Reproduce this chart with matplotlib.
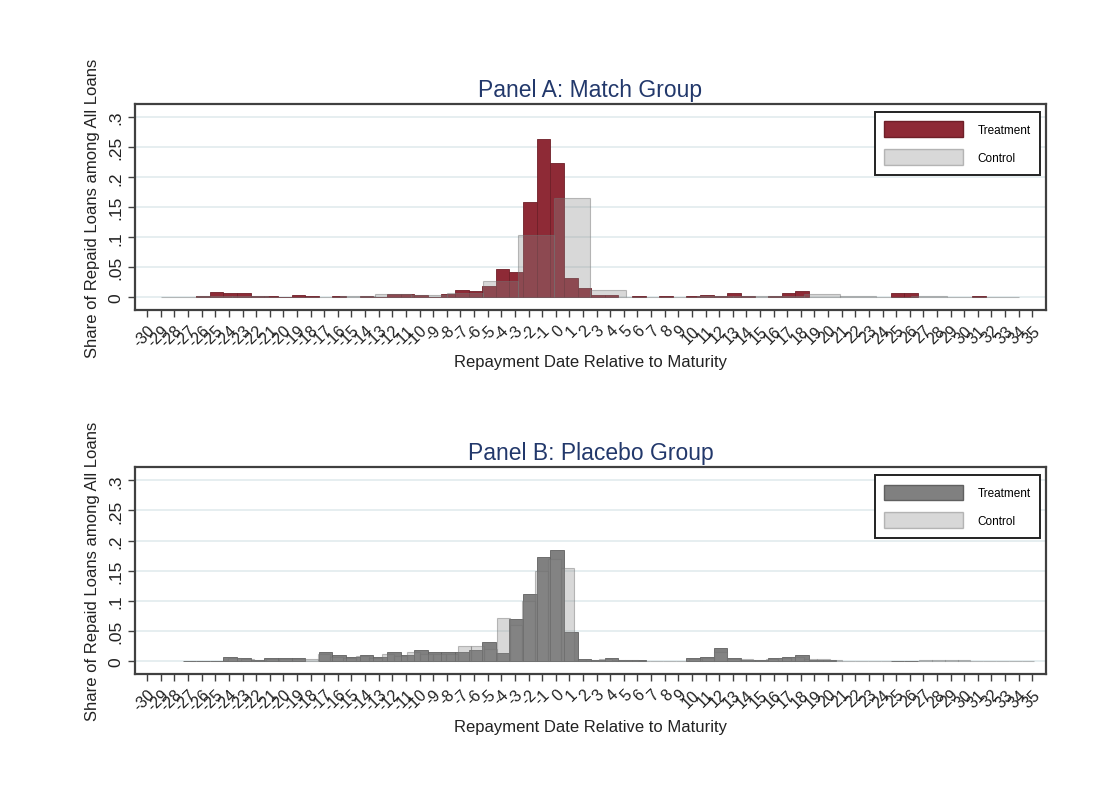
import numpy as np
import matplotlib
matplotlib.use("Agg")
import matplotlib.pyplot as plt
from matplotlib.patches import Patch

plt.rcParams["font.family"] = ["Liberation Sans", "DejaVu Sans"]

# Data
days = np.arange(-30, 36)

# Panel A: treatment shares by day (-30 .. 35)
a_treat = [0, 0, 0, 0, 0.003, 0.009, 0.007, 0.007, 0.002, 0.002,
           0.001, 0.004, 0.002, 0, 0.002, 0, 0.002, 0.001, 0.005, 0.005,
           0.004, 0.001, 0.005, 0.013, 0.011, 0.019, 0.047, 0.042, 0.158, 0.264,
           0.224, 0.033, 0.015, 0.004, 0.004, 0, 0.002, 0, 0.002, 0,
           0.002, 0.004, 0.002, 0.008, 0.002, 0, 0.002, 0.008, 0.010, 0,
           0, 0, 0, 0, 0, 0.008, 0.008, 0, 0, 0,
           0, 0.003, 0, 0, 0, 0]
# Panel A: control histogram (24 bins from -29 to 34)
a_ctrl_start, a_ctrl_width = -29, 2.625
a_ctrl = [0.001, 0.002, 0.002, 0.001, 0.001, 0.002, 0.006, 0.004, 0.007, 0.027,
          0.104, 0.166, 0.013, 0.0, 0.001, 0.002, 0.002, 0.003, 0.005, 0.003,
          0.001, 0.002, 0.001, 0.001]

# Panel B: treatment shares by day (-30 .. 35)
b_treat = [0, 0, 0, 0.001, 0.001, 0.001, 0.008, 0.006, 0.003, 0.005,
           0.005, 0.005, 0, 0.016, 0.011, 0.008, 0.011, 0.008, 0.016, 0.011,
           0.019, 0.015, 0.015, 0.015, 0.019, 0.032, 0.014, 0.071, 0.112, 0.173,
           0.184, 0.048, 0.004, 0.003, 0.006, 0.003, 0.002, 0, 0, 0,
           0.006, 0.008, 0.022, 0.006, 0.003, 0.002, 0.006, 0.008, 0.011, 0.003,
           0.002, 0, 0, 0, 0, 0.001, 0.001, 0, 0, 0,
           0, 0, 0, 0, 0, 0]
# Panel B: control histogram (66 bins)
b_ctrl_start, b_ctrl_width = -26.89, 0.94
b_ctrl = [0.001, 0.001, 0.001, 0.005, 0.004, 0.002, 0.004, 0.004, 0.004, 0.004,
          0.012, 0.008, 0.006, 0.009, 0.006, 0.012, 0.009, 0.015, 0.012, 0.012,
          0.013, 0.025, 0.025, 0.020, 0.072, 0.060, 0.100, 0.150, 0.170, 0.154,
          0.003, 0.003, 0.004, 0.002, 0.002, 0.001, 0, 0, 0, 0.004,
          0.006, 0.015, 0.004, 0.004, 0.002, 0.004, 0.006, 0.008, 0.004, 0.004,
          0.002, 0.001, 0.001, 0.001, 0, 0.001, 0.001, 0.002, 0.002, 0.002,
          0.002, 0.001, 0.001, 0.001, 0.001, 0.001]

y_ticks = [0, 0.05, 0.1, 0.15, 0.2, 0.25, 0.3]
y_labels = ["0", ".05", ".1", ".15", ".2", ".25", ".3"]
x_labels = [str(d) for d in days]

ctrl_face = (0.545, 0.545, 0.545, 0.33)
ctrl_edge = (0.45, 0.45, 0.45, 0.45)
title_color = "#22386b"
frame_color = "#404040"


def draw_panel(ax, title, treat, t_face, t_edge, c_start, c_width, ctrl):
    treat = np.array(treat)
    keep = treat > 0
    ax.bar(days[keep] + 0.1, treat[keep], width=1.0, color=t_face,
           edgecolor=t_edge, linewidth=0.6, zorder=2)
    c_left = c_start + c_width * np.arange(len(ctrl))
    ax.bar(c_left, ctrl, width=c_width, align="edge", color=ctrl_face,
           edgecolor=ctrl_edge, linewidth=0.8, zorder=3)

    ax.set_xlim(-30.9, 36.0)
    ax.set_ylim(-0.021, 0.322)
    ax.set_axisbelow(True)
    ax.yaxis.grid(True, color="#e2ebed", linewidth=1.2, zorder=0)

    ax.set_yticks(y_ticks)
    ax.set_yticklabels(y_labels, rotation=90, va="center")
    ax.set_xticks(days)
    ax.set_xticklabels(x_labels, rotation=45, ha="right",
                       rotation_mode="anchor")
    ax.tick_params(axis="y", length=5, width=1, color=frame_color,
                   labelsize=12.5, pad=3, labelcolor="#222222")
    ax.tick_params(axis="x", length=5, width=1, color=frame_color,
                   labelsize=11.5, pad=4, labelcolor="#222222")

    for s in ax.spines.values():
        s.set_color(frame_color)
        s.set_linewidth(1.6)

    ax.set_title(title, fontsize=16.5, color=title_color, pad=6)
    ax.set_xlabel("Repayment Date Relative to Maturity", fontsize=12,
                  color="#222222")
    ax.xaxis.set_label_coords(0.5, -0.215)
    ax.set_ylabel("Share of Repaid Loans among All Loans", fontsize=12,
                  color="#222222")
    ax.yaxis.set_label_coords(-0.038, 0.5)

    handles = [Patch(facecolor=t_face, edgecolor=t_edge),
               Patch(facecolor=ctrl_face, edgecolor=ctrl_edge)]
    leg = ax.legend(handles, ["Treatment", "Control"], loc="upper right",
                    bbox_to_anchor=(0.9934, 0.961), borderaxespad=0,
                    fontsize=8.5, handlelength=6.7, handleheight=1.7,
                    labelspacing=1.0, handletextpad=1.2, borderpad=0.8,
                    fancybox=False, framealpha=1)
    leg.get_frame().set_edgecolor("#222222")
    leg.get_frame().set_linewidth(1.4)


fig = plt.figure(figsize=(11.01, 8.04), dpi=100)
axA = fig.add_axes([0.1226, 0.6132, 0.8274, 0.2562])
axB = fig.add_axes([0.1226, 0.1604, 0.8274, 0.2575])

draw_panel(axA, "Panel A: Match Group", a_treat, "#8e2a36", "#6e1f28",
           a_ctrl_start, a_ctrl_width, a_ctrl)
draw_panel(axB, "Panel B: Placebo Group", b_treat, "#808080", "#606060",
           b_ctrl_start, b_ctrl_width, b_ctrl)

fig.savefig("out.png", dpi=100, facecolor="white")
